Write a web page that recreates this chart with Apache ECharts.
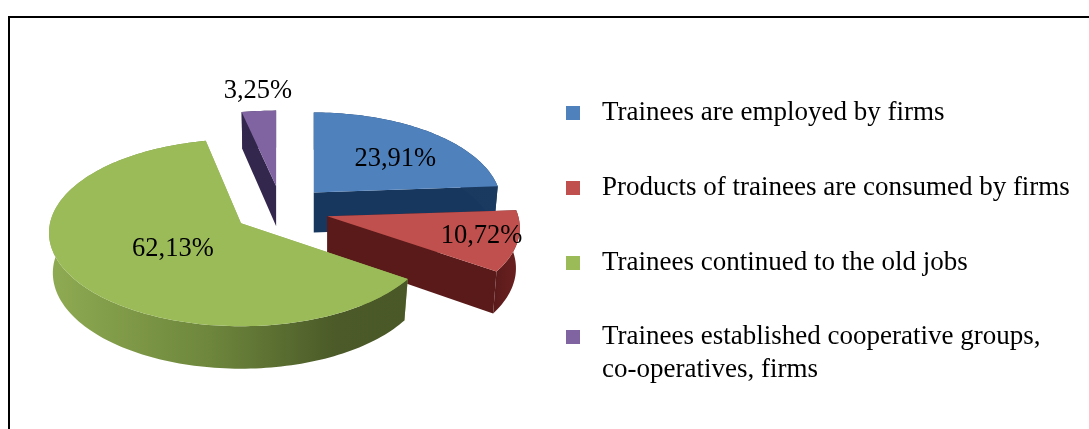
<!DOCTYPE html>
<html>
<head>
<meta charset="utf-8">
<style>html,body{margin:0;padding:0;background:#fff}#c{width:1089px;height:429px}</style>
<script src="https://cdn.jsdelivr.net/npm/echarts@6/dist/echarts.min.js"></script>
</head>
<body>
<div id="c"></div>
<script>
// --- data ---
const categories = [
  'Trainees are employed by firms',
  'Products of trainees are consumed by firms',
  'Trainees continued to the old jobs',
  'Trainees established cooperative groups,\nco-operatives, firms'
];
const shares = [23.91, 10.72, 62.13, 3.25];

// --- styles and layout of the drawing ---
const topColors = ['#4f81bd', '#c0504d', '#9bbb59', '#8064a2'];
const sideStops = [
  [[0, '#17375e'], [1, '#1b3a60']],
  [[0, '#5a1a1a'], [1, '#6b2120']],
  [[0, '#8fab52'], [0.45, '#6d863c'], [0.8, '#4b5a28'], [1, '#4a5828']],
  [[0, '#33274d'], [1, '#2f2447']]
];
const labelRadius = [0.60, 0.815, 0.44, 1.31];
const labelShiftDeg = [7, 0, -4.5, 1];
const drawOrder = [3, 0, 1, 2];
const CX = 281, CY = 210, EX = 48, EY = 24;   // pie centre and explosion
const DEPTH = 40, BOTTOM_SCALE = 0.98;
const sliceRX = [186, 191, 191, 191];
const sliceRY = [90, 90, 92.5, 85];
const slicePersp = [0.1257, 0.1257, 0.1016, 0.1257];
const FONT = '"Liberation Serif", "Times New Roman", serif';
const FONT_SIZE = 27;
const LABEL_SIZE = 26.5;

const total = shares.reduce((a, b) => a + b, 0);
const starts = [];
shares.reduce((acc, v, i) => { starts[i] = acc; return acc + v; }, 0);
const toRad = v => v / total * 2 * Math.PI;

function project(i, r, a) {        // disc coordinates -> offset from slice apex
  const u = r * Math.sin(a), v = -r * Math.cos(a);
  const s = 1 / (1 - slicePersp[i] * v);
  return [sliceRX[i] * u * s, sliceRY[i] * v * s, s];
}
function apexOf(mid) {
  return [CX + EX * Math.sin(mid), CY - EY * Math.cos(mid)];
}

function renderSlice(i) {
  const a0 = toRad(starts[i]), a1 = toRad(starts[i] + shares[i]);
  const mid = (a0 + a1) / 2;
  const ap = apexOf(mid);
  const topPt = (r, a) => { const p = project(i, r, a); return [ap[0] + p[0], ap[1] + p[1]]; };
  const botPt = (r, a) => {
    const p = project(i, r, a);
    return [ap[0] + p[0] * BOTTOM_SCALE, ap[1] + p[1] * BOTTOM_SCALE + DEPTH * p[2]];
  };
  const N = Math.max(4, Math.ceil((a1 - a0) * 40));
  const arc = [];
  for (let k = 0; k <= N; k++) arc.push(a0 + (a1 - a0) * k / N);

  const topPoly = [[ap[0], ap[1]]].concat(arc.map(a => topPt(1, a)));
  const outer = arc.map(a => topPt(1, a)).concat(arc.slice().reverse().map(a => botPt(1, a)));
  const face = a => [topPt(0, a), topPt(1, a), botPt(1, a), botPt(0, a)];

  const xs = outer.map(p => p[0]);
  const fill = new echarts.graphic.LinearGradient(
    Math.min.apply(null, xs), 0, Math.max.apply(null, xs), 0,
    sideStops[i].map(s => ({ offset: s[0], color: s[1] })), true);
  const flat = sideStops[i][0][1];
  const poly = (pts, f) => ({ type: 'polygon', shape: { points: pts }, style: { fill: f } });

  const lp = topPt(labelRadius[i], mid + labelShiftDeg[i] * Math.PI / 180);
  return {
    type: 'group',
    children: [
      poly(face(a0), flat),
      poly(face(a1), flat),
      poly(outer, fill),
      poly(topPoly, topColors[i]),
      {
        type: 'text', z2: 100,
        style: {
          x: lp[0], y: lp[1], align: 'center', verticalAlign: 'middle',
          text: shares[i].toFixed(2).replace('.', ',') + '%',
          fill: '#000', font: LABEL_SIZE + 'px ' + FONT
        }
      }
    ]
  };
}

const series = drawOrder.map(i => ({
  type: 'custom',
  name: categories[i],
  coordinateSystem: 'none',
  silent: true,
  itemStyle: { color: topColors[i] },
  data: [[shares[i]]],
  renderItem: () => renderSlice(i)
}));

const legendBase = {
  orient: 'vertical',
  left: 566,
  padding: 0,
  itemWidth: 14, itemHeight: 14, itemGap: 42,
  icon: 'rect',
  selectedMode: false,
  textStyle: { fontFamily: FONT, fontSize: FONT_SIZE, color: '#000', lineHeight: 33, padding: [0, 0, 0, 17] }
};

const chart = echarts.init(document.getElementById('c'), null, { renderer: 'canvas' });
chart.setOption({
  animation: false,
  backgroundColor: '#fff',
  legend: [
    Object.assign({}, legendBase, { top: 96.5, data: categories.slice(0, 3) }),
    // a leading blank line keeps the marker level with the first line of this two-line entry
    Object.assign({}, legendBase, { top: 287.5, data: categories.slice(3), formatter: n => '\n' + n })
  ],
  graphic: [
    { type: 'polyline', silent: true, z: 10,
      shape: { points: [[9, 429], [9, 17], [1089, 17]] },
      style: { stroke: '#000', lineWidth: 2, fill: 'none' } }
  ],
  series
});
</script>
</body>
</html>
